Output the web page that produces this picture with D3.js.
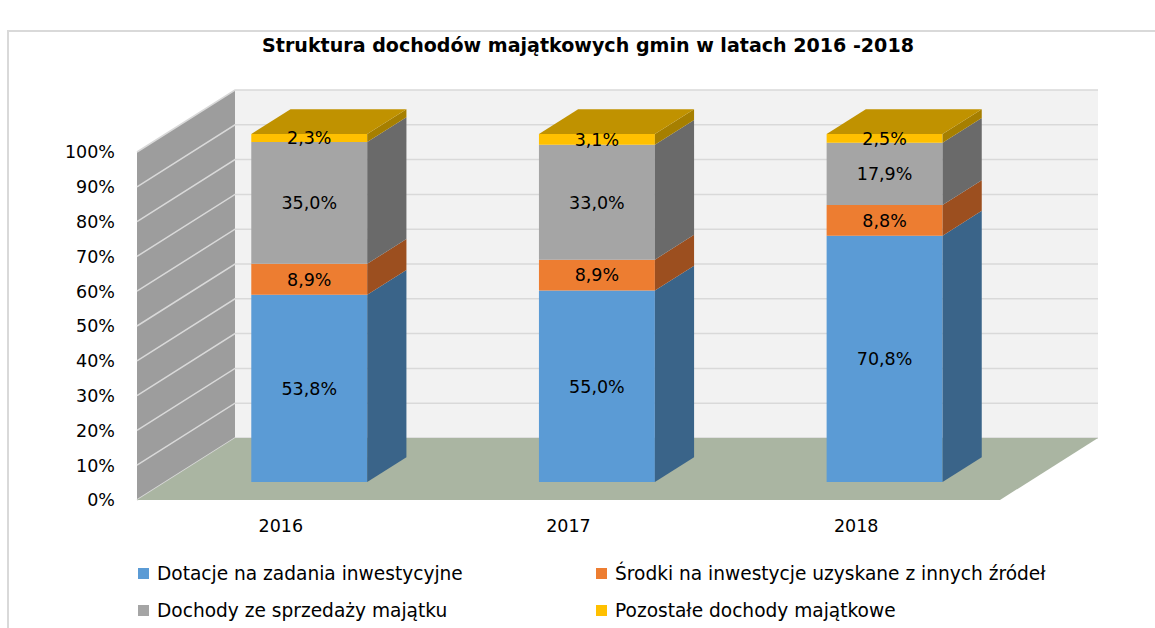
<!DOCTYPE html>
<html>
<head>
<meta charset="utf-8">
<script src="https://cdn.jsdelivr.net/npm/d3@7"></script>
<style>
  body { margin: 0; background: #fff; }
  svg { display: block; }
</style>
</head>
<body>
<div id="chart"></div>
<script>
const years = ["2016", "2017", "2018"];
const seriesNames = [
    "Dotacje na zadania inwestycyjne",
    "Środki na inwestycje uzyskane z innych źródeł",
    "Dochody ze sprzedaży majątku",
    "Pozostałe dochody majątkowe"
];
const dotacje = [53.8, 55.0, 70.8];
const srodki = [8.9, 8.9, 8.8];
const sprzedaz = [35.0, 33.0, 17.9];
const pozostale = [2.3, 3.1, 2.5];
const tickValues = [0, 10, 20, 30, 40, 50, 60, 70, 80, 90, 100];

const frontColors = ["#5b9bd5", "#ed7d31", "#a5a5a5", "#ffc000"];
const sideColors = ["#3a6489", "#9c4f1f", "#6a6a6a", "#a67f00"];
const topColor = "#c09200";

const width = 1155, height = 628;
const depthX = 98, depthY = -62;     // full depth of the floor
const barD0 = 0.29, barD1 = 0.69;    // where the bars sit in depth

let svg = d3.select("#chart")
    .append("svg")
    .attr("width", width)
    .attr("height", height);

let x = d3.scaleBand()
    .domain(years)
    .range([137, 1000])
    .paddingInner(0.597)
    .paddingOuter(0.2985);
let y = d3.scaleLinear()
    .domain([0, 100])
    .range([500, 152]);

function pt(px, v, d){
    return [px + d * depthX, y(v) + d * depthY];
}
function poly(points){
    return "M" + points.map(p => p.join(",")).join("L") + "Z";
}

// frame
svg.append("path")
    .attr("d", "M8,628L8,31L1155,31")
    .style("fill", "none")
    .style("stroke", "#d9d9d9")
    .style("stroke-width", 2);

// title
let title = svg.append("text")
    .attr("x", 588)
    .attr("y", 52)
    .attr("text-anchor", "middle")
    .style("font-family", "DejaVu Sans")
    .style("font-weight", "bold")
    .style("font-size", "17px")
    .style("fill", "#000")
    .text("Struktura dochodów majątkowych gmin w latach 2016 -2018");
let tw = title.node().getComputedTextLength();
title.style("font-size", (17 * 652 / tw).toFixed(2) + "px");

const x0 = x.range()[0], x1 = x.range()[1];

// back wall
svg.append("path")
    .attr("d", poly([pt(x0, 0, 1), pt(x1, 0, 1), pt(x1, 100, 1), pt(x0, 100, 1)]))
    .style("fill", "#f2f2f2");
// side wall
svg.append("path")
    .attr("d", poly([pt(x0, 0, 0), pt(x0, 0, 1), pt(x0, 100, 1), pt(x0, 100, 0)]))
    .style("fill", "#9d9d9d");

// gridlines
let grid = svg.append("g");
tickValues.forEach(function(t){
    grid.append("path")
        .attr("d", "M" + pt(x0, t, 0).join(",") + "L" + pt(x0, t, 1).join(",") + "L" + pt(x1, t, 1).join(","))
        .style("fill", "none")
        .style("stroke", "#d9d9d9")
        .style("stroke-width", 1.5);
});

// floor
svg.append("path")
    .attr("d", poly([pt(x0, 0, 0), pt(x1, 0, 0), pt(x1, 0, 1), pt(x0, 0, 1)]))
    .style("fill", "#aab5a2");

// y axis labels
svg.append("g")
    .selectAll("text")
    .data(tickValues)
    .join("text")
    .attr("x", 115)
    .attr("y", d => y(d))
    .attr("dy", "0.36em")
    .attr("text-anchor", "end")
    .style("font-family", "DejaVu Sans")
    .style("font-size", "17.5px")
    .style("fill", "#000")
    .text(d => d + "%");

// x axis labels
svg.append("g")
    .selectAll("text")
    .data(years)
    .join("text")
    .attr("x", d => x(d) + x.bandwidth() / 2)
    .attr("y", 532)
    .attr("text-anchor", "middle")
    .style("font-family", "DejaVu Sans")
    .style("font-size", "17.5px")
    .style("fill", "#000")
    .text(d => d);

// stacked bars
let table = years.map((yr, i) => ({
    year: yr,
    s0: dotacje[i], s1: srodki[i], s2: sprzedaz[i], s3: pozostale[i]
}));
let stack = d3.stack().keys(["s0", "s1", "s2", "s3"])(table);
let bars = svg.append("g");
let labels = svg.append("g");
stack.forEach(function(layer, si){
    layer.forEach(function(seg, i){
        let left = x(years[i]);
        let right = left + x.bandwidth();
        // front face
        bars.append("path")
            .attr("d", poly([pt(left, seg[0], barD0), pt(right, seg[0], barD0), pt(right, seg[1], barD0), pt(left, seg[1], barD0)]))
            .style("fill", frontColors[si]);
        // side face
        bars.append("path")
            .attr("d", poly([pt(right, seg[0], barD0), pt(right, seg[0], barD1), pt(right, seg[1], barD1), pt(right, seg[1], barD0)]))
            .style("fill", sideColors[si]);
        if(si === stack.length - 1){
            bars.append("path")
                .attr("d", poly([pt(left, seg[1], barD0), pt(right, seg[1], barD0), pt(right, seg[1], barD1), pt(left, seg[1], barD1)]))
                .style("fill", topColor);
        }
        let c = pt((left + right) / 2, (seg[0] + seg[1]) / 2, barD0);
        labels.append("text")
            .attr("x", c[0])
            .attr("y", c[1])
            .attr("dy", "0.36em")
            .attr("text-anchor", "middle")
            .style("font-family", "DejaVu Sans")
            .style("font-size", "17.5px")
            .style("fill", "#000")
            .text(d3.format(".1f")(seg[1] - seg[0]).replace(".", ",") + "%");
    });
});

// legend
let legendPos = [[138, 573.5], [596, 573.5], [138, 610.5], [596, 610.5]];
let legend = svg.append("g");
let legendTexts = [];
seriesNames.forEach(function(name, i){
    legend.append("rect")
        .attr("x", legendPos[i][0])
        .attr("y", legendPos[i][1] - 5.5)
        .attr("width", 11)
        .attr("height", 11)
        .style("fill", frontColors[i]);
    legendTexts.push(legend.append("text")
        .attr("x", legendPos[i][0] + 19)
        .attr("y", legendPos[i][1])
        .attr("dy", "0.36em")
        .style("font-family", "DejaVu Sans")
        .style("font-size", "16px")
        .style("fill", "#000")
        .text(name));
});
// match the reference width of the first entry
let lw = legendTexts[0].node().getComputedTextLength();
legendTexts.forEach(t => t.style("font-size", (16 * 306 / lw).toFixed(2) + "px"));
</script>
</body>
</html>
